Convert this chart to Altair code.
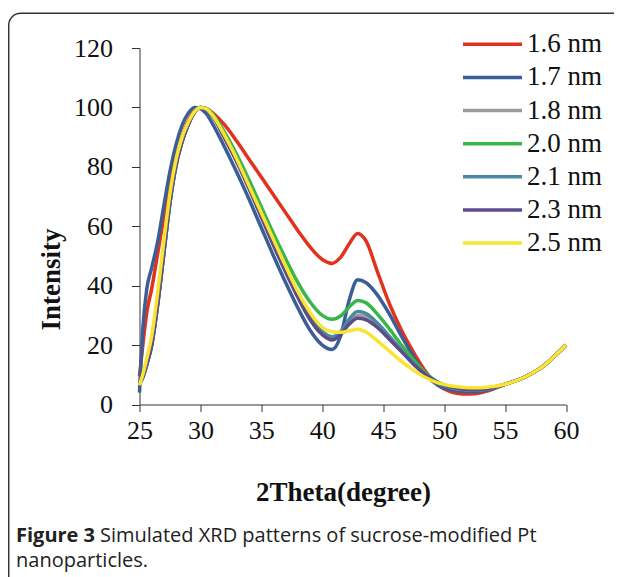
import altair as alt
import pandas as pd

# ---------------- data ----------------
two_theta = [25, 25.3, 25.6, 26, 26.5, 27, 27.5, 28, 28.5, 29, 29.5, 30, 30.5, 31,
             32, 33, 34, 35, 36, 37, 38, 39, 40, 40.8, 41.5, 42.2, 42.9, 43.6,
             44.5, 45.5, 46.5, 47.5, 48.5, 49.5, 50.5, 51.5, 52.5, 53.5, 55, 56.5, 58, 60]

sizes = ["1.6 nm", "1.7 nm", "1.8 nm", "2.0 nm", "2.1 nm", "2.3 nm", "2.5 nm"]
colors = ["#E2321E", "#3B5E96", "#9C9C9C", "#3AB54A", "#4A8AA0", "#5E4B8A", "#F9E431"]

i_16 = [9.5, 21, 31, 39, 51, 63, 74, 83, 90, 95.5, 98.8, 100, 99.6, 98.2,
        94, 88.5, 82.5, 76.5, 70.5, 64.5, 58.5, 53, 48.8, 47.5, 49.5, 54, 57.6, 55,
        45, 34, 25, 17.5, 11, 6.5, 4.3, 3.5, 3.6, 4.5, 6.8, 9, 12.5, 20]
i_17 = [4, 27, 39, 46, 55, 67, 78.5, 87.5, 94, 98, 100, 99.6, 97.8, 94.5,
        86.5, 78, 69, 59.5, 50, 41, 32.5, 25, 20, 18.5, 23, 35, 42, 41,
        37, 30.5, 23, 16, 10, 6.5, 5, 4.4, 4.3, 4.8, 6.8, 9, 12.5, 20]
i_18 = [7, 9.5, 13.5, 20, 34, 51, 68, 80.5, 88.5, 94.2, 98.3, 100, 99.5, 97.2,
        90, 82, 73, 63.5, 54, 45, 36.5, 29, 24, 22.3, 24, 28, 30, 29.5,
        26.8, 22.5, 18, 13.6, 10, 7.3, 5.9, 5.1, 4.9, 5.2, 6.8, 9, 12.5, 20]
i_20 = [7, 9.5, 13.5, 20, 34, 51, 68, 80.5, 88.5, 94.2, 98.3, 100, 99.6, 97.8,
        91.5, 84, 75.5, 66.5, 57.5, 49, 41, 34.5, 30, 28.7, 29.8, 32.8, 35, 34.2,
        30.5, 25.5, 20, 15, 10.5, 7.5, 5.9, 5.1, 4.9, 5.3, 6.8, 9, 12.5, 20]
i_21 = [7, 9.5, 13.5, 20, 34, 51, 68, 80.5, 88.5, 94.2, 98.3, 100, 99.5, 97.3,
        90.3, 82.5, 73.5, 64, 54.5, 45.5, 37, 29.5, 24.5, 22.8, 24.5, 28.7, 31.3, 30.6,
        27.5, 23, 18.3, 13.8, 10, 7.3, 5.8, 5, 4.8, 5.2, 6.8, 9, 12.5, 20]
i_23 = [7, 9.5, 13.5, 20, 34, 51, 68, 80.5, 88.5, 94.2, 98.3, 100, 99.4, 97,
        89.5, 81.5, 72.5, 63, 53.5, 44.5, 36, 28.5, 23.5, 21.7, 23.5, 27, 29, 28.5,
        26, 22, 17.8, 13.5, 10, 7.4, 6, 5.2, 5, 5.3, 6.8, 9, 12.5, 20]
i_25 = [6.5, 10.5, 15.5, 23, 38, 55, 71, 82.5, 90, 95, 98.5, 100, 99.5, 97.3,
        90.5, 82.5, 73.5, 64.5, 55.5, 46.5, 38, 31, 26, 24.5, 24.3, 24.8, 25.3, 24.3,
        21.5, 18, 14.5, 11.5, 9, 7.3, 6.3, 5.8, 5.6, 5.8, 6.8, 9, 12.5, 20]

x_ticks = [25, 30, 35, 40, 45, 50, 55, 60]
y_ticks = [0, 20, 40, 60, 80, 100, 120]

series = [i_16, i_17, i_18, i_20, i_21, i_23, i_25]
rows = []
for name, vals in zip(sizes, series):
    for x, y in zip(two_theta, vals):
        rows.append({"size": name, "two_theta": x, "intensity": y})
df = pd.DataFrame(rows)
leg_df = pd.DataFrame({"size": sizes})

# ---------------- chart ----------------
W, H = 426.5, 356.5
SERIF = "Liberation Serif"
color_scale = alt.Scale(domain=sizes, range=colors)

lines = alt.Chart(df).mark_line(interpolate="monotone", strokeWidth=3.5).encode(
    x=alt.X("two_theta:Q",
            scale=alt.Scale(domain=[25, 60], nice=False),
            axis=alt.Axis(values=x_ticks, title="2Theta(degree)", grid=False,
                          domainColor="#333", tickColor="#333", tickSize=7,
                          labelFont=SERIF, labelFontSize=26, labelColor="#111",
                          labelPadding=6, labelBaseline="top", labelFlush=False,
                          labelOverlap=False,
                          titleFont=SERIF, titleFontSize=27, titleFontWeight="bold",
                          titleColor="#111", titleX=203.5, titleY=95.5,
                          titleBaseline="alphabetic", titleAlign="center")),
    y=alt.Y("intensity:Q",
            scale=alt.Scale(domain=[0, 120], nice=False),
            axis=alt.Axis(values=y_ticks, title="Intensity", grid=False,
                          domainColor="#333", tickColor="#333", tickSize=8,
                          labelFont=SERIF, labelFontSize=26, labelColor="#111",
                          labelPadding=19, labelFlush=False, labelOverlap=False,
                          titleFont=SERIF, titleFontSize=27, titleFontWeight="bold",
                          titleColor="#111", titleX=-88.5, titleY=231,
                          titleAngle=270, titleBaseline="middle", titleAlign="center")),
    color=alt.Color("size:N", scale=color_scale, legend=None),
)

leg_y = alt.Y("size:N", scale=alt.Scale(type="point", domain=sizes, range=[-3.7, 195], padding=0),
              axis=None)
leg_rule = alt.Chart(leg_df).mark_rule(strokeWidth=3.5).encode(
    x=alt.value(323.5), x2=alt.value(382.5), y=leg_y,
    color=alt.Color("size:N", scale=color_scale, legend=None),
)
leg_text = alt.Chart(leg_df).mark_text(align="left", baseline="middle", font=SERIF,
                                       fontSize=27, color="#111").encode(
    x=alt.value(387.5), y=leg_y, text="size:N",
)

frame_df = pd.DataFrame({"k": [0]})
border = alt.Chart(frame_df).mark_rect(fill="white", fillOpacity=0, stroke="#333",
                                       strokeWidth=1.5, cornerRadius=12).encode(
    x=alt.value(-130.8), x2=alt.value(620), y=alt.value(-34.7), y2=alt.value(620),
)
cap_bold = alt.Chart(frame_df).mark_text(text="Figure 3", font="Open Sans", fontWeight="bold",
                                         fontSize=20, align="left", baseline="alphabetic",
                                         color="#222").encode(
    x=alt.value(16 - 139.5), y=alt.value(542 - 48),
)
cap_rest = alt.Chart(frame_df).mark_text(text="Simulated XRD patterns of sucrose-modified Pt",
                                         font="Open Sans", fontSize=20, align="left",
                                         baseline="alphabetic", color="#222").encode(
    x=alt.value(100 - 139.5), y=alt.value(542 - 48),
)
cap_line2 = alt.Chart(frame_df).mark_text(text="nanoparticles.", font="Open Sans", fontSize=20,
                                          align="left", baseline="alphabetic",
                                          color="#222").encode(
    x=alt.value(16 - 139.5), y=alt.value(567 - 48),
)

chart = alt.layer(border, lines, leg_rule, leg_text, cap_bold, cap_rest, cap_line2).resolve_scale(
    y="independent"
).properties(
    width=W, height=H,
    autosize=alt.AutoSizeParams(type="none"),
    padding={"left": 131.5, "top": 40, "right": 48, "bottom": 177},
    background="white",
).configure_view(strokeWidth=0)

chart.save("out.html", embed_options={"renderer": "svg", "actions": False})
